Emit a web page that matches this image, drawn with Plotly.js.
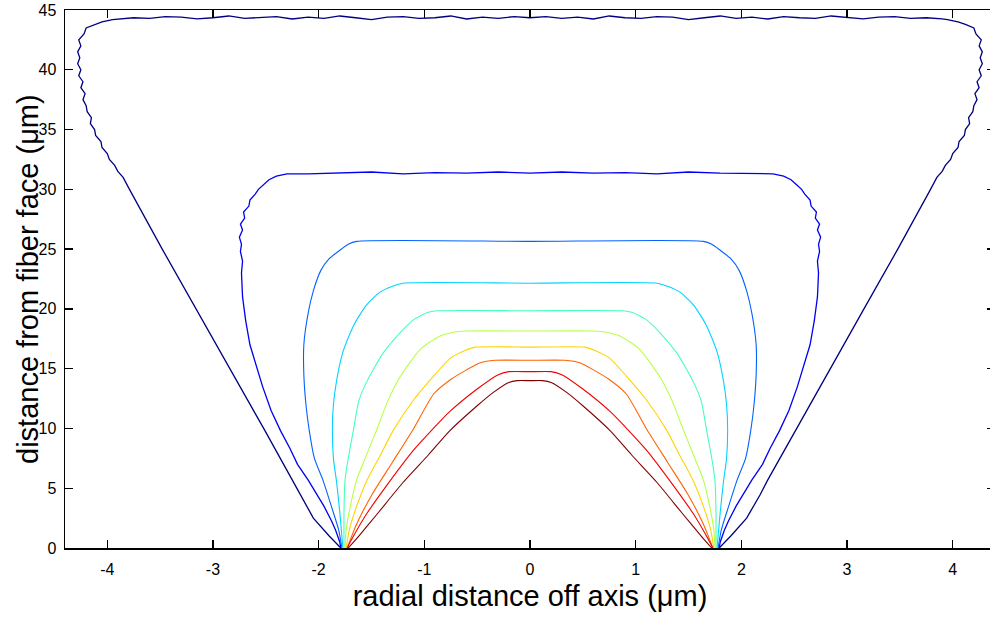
<!DOCTYPE html>
<html>
<head>
<meta charset="utf-8">
<script src="https://cdn.plot.ly/plotly-3.0.1.min.js"></script>
<style>
html,body{margin:0;padding:0;overflow:hidden;background:#fff;}
#chart{width:995px;height:618px;}
</style>
</head>
<body>
<div id="chart"></div>
<script>
// Contour levels (outermost to innermost), right half profiles (x >= 0), mirrored for the left half
const levelColors = ["#000080","#0000f1","#0063ff","#00d4ff","#47ffb8","#b8ff47","#ffd400","#ff6300","#f10000","#800000"];

const c1x = [0, 0.15, 0.3, 0.45, 0.6, 0.75, 0.9, 1.05, 1.2, 1.35, 1.5, 1.65, 1.8, 1.95, 2.1, 2.25, 2.4, 2.55, 2.7, 2.85, 3.0, 3.15, 3.3, 3.45, 3.6, 3.75, 3.9,
             3.95, 4.05, 4.12, 4.2, 4.22, 4.27, 4.25, 4.28, 4.26, 4.28, 4.25, 4.27, 4.23, 4.25, 4.21, 4.23, 4.2, 4.19, 4.15, 4.16, 4.12, 4.11, 4.06, 4.05, 4.0, 3.98, 3.93, 3.9, 3.85,
             3.79, 3.48, 3.16, 2.84, 2.52, 2.25, 2.18, 2.05, 1.9, 1.79];
const c1y = [44.35, 44.45, 44.3, 44.4, 44.25, 44.5, 44.35, 44.3, 44.45, 44.4, 44.2, 44.35, 44.5, 44.3, 44.4, 44.25, 44.45, 44.35, 44.3, 44.5, 44.35, 44.25, 44.4, 44.45, 44.3, 44.35, 44.25,
             44.2, 44.0, 43.8, 43.5, 43.0, 42.5, 42.0, 41.5, 41.0, 40.5, 40.0, 39.5, 39.0, 38.5, 38.0, 37.5, 37.0, 36.5, 36.0, 35.5, 35.0, 34.5, 34.0, 33.5, 33.0, 32.5, 32.0, 31.5, 31.0,
             30.0, 25.0, 20.0, 15.0, 10.0, 5.7, 4.5, 2.5, 1.0, 0];

const c2x = [0, 0.3, 0.6, 0.9, 1.2, 1.5, 1.8, 2.1, 2.3, 2.4, 2.47, 2.52, 2.57, 2.6, 2.65, 2.66, 2.71, 2.7, 2.74, 2.72, 2.75, 2.73, 2.74, 2.72, 2.73,
             2.72, 2.69, 2.65, 2.6, 2.53, 2.45, 2.36, 2.27, 2.2, 2.1, 2.02, 1.95, 1.88, 1.84, 1.8, 1.79];
const c2y = [31.35, 31.45, 31.35, 31.4, 31.3, 31.45, 31.35, 31.3, 31.3, 31.1, 30.8, 30.4, 30.0, 29.6, 29.1, 28.6, 28.1, 27.6, 27.1, 26.6, 26.0, 25.4, 24.8, 24.0, 23.0,
             21.0, 19.0, 17.0, 15.5, 13.5, 11.5, 9.8, 8.3, 7.0, 5.7, 4.5, 3.5, 2.3, 1.5, 0.5, 0];

const c3x = [0, 1.64, 1.72, 1.8, 1.9, 1.98, 2.05, 2.1, 2.14, 2.14, 2.12, 2.09, 2.04, 1.96, 1.88, 1.81, 1.78];
const c3y = [25.65, 25.65, 25.4, 24.9, 24.2, 23.2, 21.5, 19.6, 17, 14.5, 12, 9.9, 7.5, 5.7, 3.5, 1.5, 0];

const c4x = [0, 1.2, 1.3, 1.42, 1.55, 1.67, 1.77, 1.83, 1.86, 1.87, 1.86, 1.83, 1.8, 1.77];
const c4y = [22.15, 22.15, 21.9, 21.4, 20.3, 18.6, 16.4, 14.0, 12, 9.9, 7.5, 5.5, 3, 0];

const c5x = [0, 0.88, 0.97, 1.1, 1.23, 1.39, 1.54, 1.62, 1.67, 1.72, 1.75, 1.76, 1.76];
const c5y = [19.84, 19.84, 19.7, 19.1, 18.0, 16.3, 14.0, 12.3, 9.9, 7.5, 5.7, 3, 0];

const c6x = [0, 0.6, 0.72, 0.86, 1.04, 1.23, 1.35, 1.45, 1.56, 1.64, 1.7, 1.74, 1.75];
const c6y = [18.15, 18.15, 18.05, 17.7, 16.6, 14.3, 12.2, 9.9, 7.5, 5.7, 3.5, 1.5, 0];

const c7x = [0, 0.52, 0.62, 0.75, 0.91, 1.1, 1.29, 1.42, 1.54, 1.64, 1.71, 1.74];
const c7y = [16.8, 16.8, 16.5, 15.9, 14.4, 12.4, 9.9, 7.7, 5.7, 3.5, 1.5, 0];

const c8x = [0, 0.33, 0.47, 0.6, 0.75, 0.91, 1.1, 1.3, 1.5, 1.64, 1.73];
const c8y = [15.7, 15.7, 15.5, 14.9, 14.1, 12.9, 10.0, 7.2, 4.4, 2.0, 0];

const c9x = [0, 0.2, 0.3, 0.5, 0.76, 1.1, 1.35, 1.55, 1.67, 1.73];
const c9y = [14.75, 14.75, 14.5, 13.3, 11.4, 8.2, 5.3, 2.8, 1.0, 0];

const c10x = [0, 0.12, 0.2, 0.35, 0.5, 0.76, 0.96, 1.2, 1.45, 1.62, 1.72];
const c10y = [14.0, 14.0, 13.85, 13.0, 11.9, 9.8, 7.8, 5.5, 2.8, 1.0, 0];

const xTicks = [-4, -3, -2, -1, 0, 1, 2, 3, 4];
const yTicks = [0, 5, 10, 15, 20, 25, 30, 35, 40, 45];

const halves = [[c1x,c1y],[c2x,c2y],[c3x,c3y],[c4x,c4y],[c5x,c5y],[c6x,c6y],[c7x,c7y],[c8x,c8y],[c9x,c9y],[c10x,c10y]];

const traces = halves.map(function(h, i){
  const hx = h[0], hy = h[1];
  const xs = [], ys = [];
  for (let k = hx.length - 1; k >= 1; k--) { xs.push(-hx[k]); ys.push(hy[k]); }
  for (let k = 0; k < hx.length; k++) { xs.push(hx[k]); ys.push(hy[k]); }
  const line = i < 2 ? {color: levelColors[i], width: 1.3}
                     : {color: levelColors[i], width: 1.1, shape: 'spline', smoothing: 0.6};
  return {x: xs, y: ys, type: 'scatter', mode: 'lines', line: line, hoverinfo: 'skip', showlegend: false};
});

const tickFont = {family: 'Liberation Sans, Arial, sans-serif', size: 16, color: '#000'};
const titleFont = {family: 'Liberation Sans, Arial, sans-serif', size: 29, color: '#000'};
const layout = {
  width: 995, height: 618,
  margin: {l: 65, r: 0, t: 10, b: 70},
  paper_bgcolor: '#fff', plot_bgcolor: '#fff',
  showlegend: false,
  xaxis: {
    range: [-4.4, 4.4], tickvals: xTicks, ticktext: xTicks.map(String),
    ticks: 'inside', ticklen: 8, tickwidth: 1.3, tickcolor: '#000',
    showline: true, linecolor: '#000', linewidth: 1.5, mirror: 'ticks',
    showgrid: false, zeroline: false, tickfont: tickFont, ticklabelstandoff: 6,
    title: {text: 'radial distance off axis (μm)', font: titleFont, standoff: 9}
  },
  yaxis: {
    range: [0, 45], tickvals: yTicks, ticktext: yTicks.map(String),
    ticks: 'inside', ticklen: 8, tickwidth: 1.3, tickcolor: '#000',
    showline: true, linecolor: '#000', linewidth: 1.5, mirror: 'ticks',
    showgrid: false, zeroline: false, tickfont: tickFont, ticklabelstandoff: 4
  },
  annotations: [{
    text: 'distance from fiber face (μm)', textangle: -90, showarrow: false,
    xref: 'paper', yref: 'paper', x: 0, y: 0.5, xanchor: 'center', yanchor: 'middle',
    xshift: -37, font: titleFont
  }]
};

Plotly.newPlot('chart', traces, layout, {displayModeBar: false, staticPlot: true});
</script>
</body>
</html>
